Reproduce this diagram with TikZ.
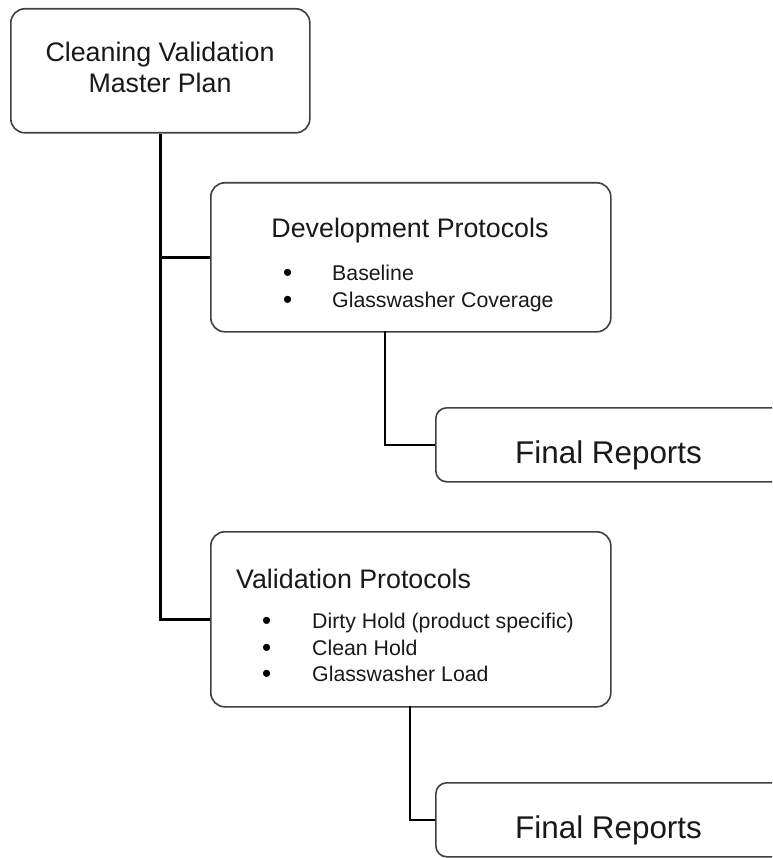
\documentclass[tikz,border=0pt]{standalone}
\usepackage{fontspec}
\setmainfont{Liberation Sans}
\tikzset{
  box/.style={draw=black!75, line width=1.6pt, rounded corners=14pt, fill=white, anchor=north west, inner sep=0pt},
  conn/.style={draw=black, line width=2.6pt},
  ttl/.style={font=\fontsize{26.8}{31}\selectfont, anchor=base, inner sep=0pt, text=black!90},
  itm/.style={font=\fontsize{21.3}{26}\selectfont, anchor=base west, inner sep=0pt, text=black!90},
  bul/.style={font=\fontsize{26}{26}\selectfont, anchor=base west, inner sep=0pt, text=black},
  fin/.style={font=\fontsize{31.4}{36}\selectfont, anchor=base west, inner sep=0pt, text=black!90},
}
\begin{document}
\begin{tikzpicture}[x=1pt,y=-1pt]
\useasboundingbox (0,0) rectangle (772,858);
\clip (0,0) rectangle (772,858);
\fill[white] (0,0) rectangle (772,858);
% boxes
\node[box, minimum width=299pt, minimum height=124pt] (b1) at (10,8) {};
\node[box, minimum width=400pt, minimum height=149pt] (b2) at (210,182) {};
\node[box, minimum width=360pt, minimum height=74pt, rounded corners=11pt] (b3) at (435,407) {};
\node[box, minimum width=400pt, minimum height=175pt] (b4) at (210,531) {};
\node[box, minimum width=360pt, minimum height=74pt, rounded corners=11pt] (b5) at (435,782) {};
% connectors
\coordinate (t2) at (385,331);
\coordinate (t4) at (410,706);
\draw[conn] (b1.south) |- (b4.west);
\draw[conn] (b1.south |- b2.west) -- (b2.west);
\draw[conn] (t2) |- (b3.west);
\draw[conn] (t4) |- (b5.west);
% texts
\node[ttl] (t1a) at (160,62) {Cleaning Validation};
\node[ttl] (t1b) at (160,93) {Master Plan};
\node[ttl] (t2a) at (410,238) {Development Protocols};
\node[bul] (d1b) at (283,281) {•};
\node[itm] (d1) at (332,280) {Baseline};
\node[bul] (d2b) at (283,308) {•};
\node[itm] (d2) at (332,307) {Glasswasher Coverage};
\node[fin] (f1) at (515,463) {Final Reports};
\node[ttl, anchor=base west] (t4a) at (236,588) {Validation Protocols};
\node[bul] (v1b) at (262,629) {•};
\node[itm] (v1) at (312,628) {Dirty Hold (product specific)};
\node[bul] (v2b) at (262,656) {•};
\node[itm] (v2) at (312,655) {Clean Hold};
\node[bul] (v3b) at (262,682) {•};
\node[itm] (v3) at (312,681) {Glasswasher Load};
\node[fin] (f2) at (515,838) {Final Reports};
\end{tikzpicture}
\end{document}
